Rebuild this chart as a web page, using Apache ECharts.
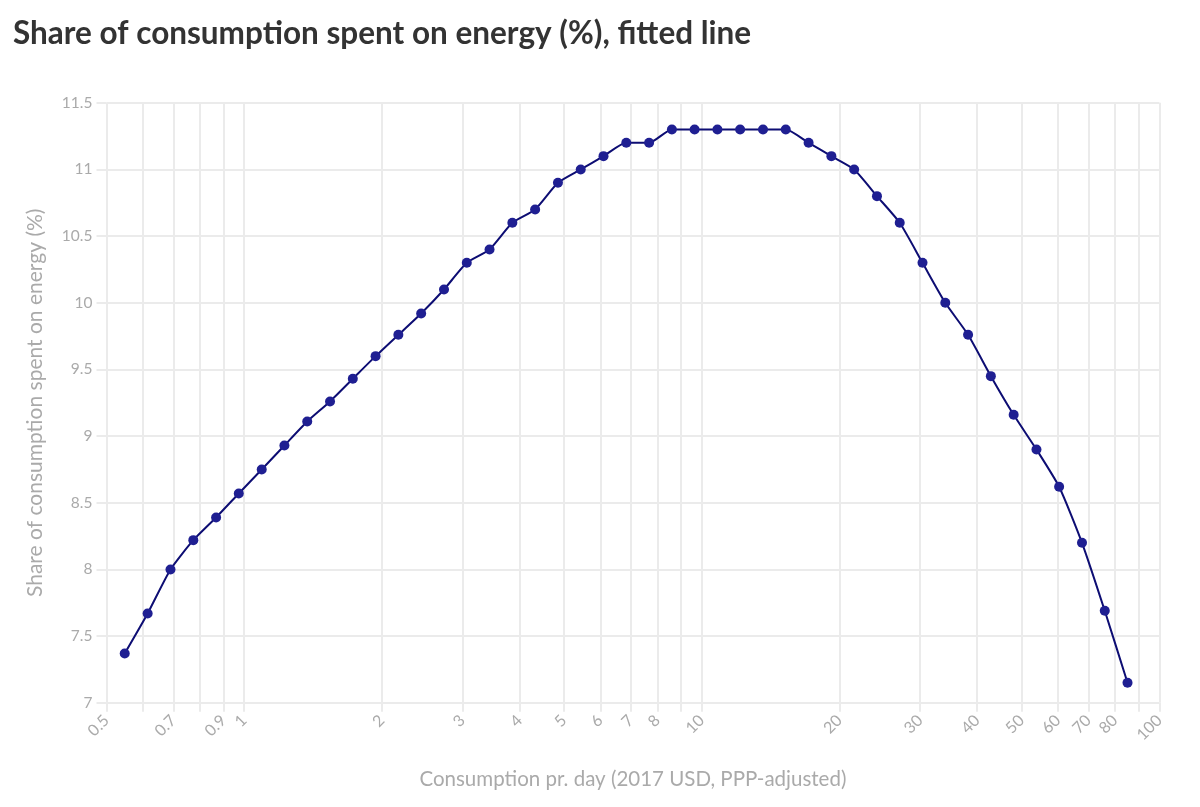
<!DOCTYPE html>
<html>
<head>
    <meta charset="utf-8">
    <title>Share of consumption spent on energy</title>
    <script src="https://cdn.jsdelivr.net/npm/echarts@6/dist/echarts.min.js"></script>
    <style>
        html, body { margin: 0; padding: 0; background: #fff; }
        #chart { width: 1200px; height: 807px; }
    </style>
</head>
<body>
<div id="chart"></div>
<script>
    // consumption per day (2017 USD, PPP)
    var consumption = [0.548, 0.615, 0.690, 0.774, 0.868, 0.973, 1.092, 1.224, 1.373, 1.540,
        1.727, 1.937, 2.172, 2.436, 2.733, 3.065, 3.437, 3.855, 4.323, 4.849,
        5.438, 6.099, 6.840, 7.672, 8.604, 9.645, 10.82, 12.13, 13.61, 15.26,
        17.12, 19.20, 21.53, 24.15, 27.08, 30.37, 34.06, 38.20, 42.84, 48.05,
        53.89, 60.40, 67.77, 76.00, 85.22];
    // share of consumption spent on energy (%)
    var energyShare = [7.37, 7.67, 8.00, 8.22, 8.39, 8.57, 8.75, 8.93, 9.11, 9.26,
        9.43, 9.60, 9.76, 9.92, 10.1, 10.3, 10.4, 10.6, 10.7, 10.9,
        11.0, 11.1, 11.2, 11.2, 11.3, 11.3, 11.3, 11.3, 11.3, 11.3,
        11.2, 11.1, 11.0, 10.8, 10.6, 10.3, 10.0, 9.76, 9.45, 9.16,
        8.90, 8.62, 8.20, 7.69, 7.15];
    var xGridValues = [0.5, 0.6, 0.7, 0.8, 0.9, 1, 2, 3, 4, 5, 6, 7, 8, 9, 10,
        20, 30, 40, 50, 60, 70, 80, 90, 100];
    var xLabelValues = [0.5, 0.7, 0.9, 1, 2, 3, 4, 5, 6, 7, 8, 10,
        20, 30, 40, 50, 60, 70, 80, 100];

    var points = consumption.map(function (c, i) { return [c, energyShare[i]]; });

    var font = 'Lato, "Open Sans", sans-serif';
    var gridColor = '#ebebeb';

    var option = {
        backgroundColor: '#fff',
        animation: false,
        title: {
            text: 'Share of consumption spent on energy (%), fitted line',
            left: 8,
            top: 13,
            textStyle: { fontFamily: font, fontWeight: 'bold', fontSize: 31.5, color: '#333' }
        },
        grid: { left: 106.5, right: 40.7, top: 102.8, height: 600, containLabel: false },
        xAxis: {
            type: 'log',
            logBase: 10,
            min: 0.5,
            max: 100,
            name: 'Consumption pr. day (2017 USD, PPP-adjusted)',
            nameLocation: 'middle',
            nameGap: 66,
            nameTextStyle: { fontFamily: font, fontSize: 20.5, color: '#aaa' },
            axisLine: { show: false },
            axisTick: { show: true, length: 9, customValues: xGridValues, lineStyle: { color: gridColor, width: 2 } },
            axisLabel: {
                customValues: xLabelValues,
                rotate: 45,
                margin: 15,
                fontFamily: font,
                fontSize: 16,
                color: '#aaa'
            },
            splitLine: { show: true, lineStyle: { color: gridColor, width: 2 } }
        },
        yAxis: {
            type: 'value',
            min: 7,
            max: 11.5,
            interval: 0.5,
            name: 'Share of consumption spent on energy (%)',
            nameLocation: 'middle',
            nameGap: 61,
            nameTextStyle: { fontFamily: font, fontSize: 21, color: '#aaa' },
            axisLine: { show: false },
            axisTick: { show: true, length: 10, lineStyle: { color: gridColor, width: 2 } },
            axisLabel: { fontFamily: font, fontSize: 15.5, color: '#aaa', margin: 14 },
            splitLine: { show: true, lineStyle: { color: gridColor, width: 2 } }
        },
        series: [{
            type: 'line',
            data: points,
            smooth: 0.2,
            symbol: 'circle',
            symbolSize: 10,
            lineStyle: { color: '#0d0d73', width: 2 },
            itemStyle: { color: '#1f1f92' }
        }]
    };

    var chart = echarts.init(document.getElementById('chart'));
    chart.setOption(option);
</script>
</body>
</html>
